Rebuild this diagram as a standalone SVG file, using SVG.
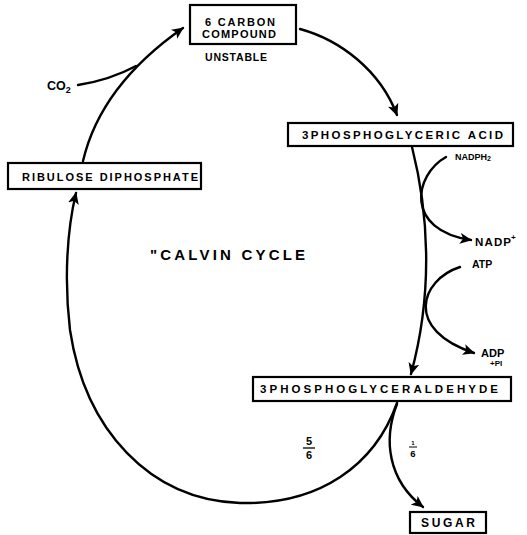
<svg xmlns="http://www.w3.org/2000/svg" width="527" height="535" viewBox="0 0 527 535">
  <style>
    .box { fill: #fff; stroke: #000; stroke-width: 2.2; }
    .lbl { font-family: "Liberation Sans", "DejaVu Sans", sans-serif; font-weight: bold; fill: #000; }
    .wire { fill: none; stroke: #000; stroke-width: 2.4; stroke-linecap: round; }
  </style>
  <defs>
    <marker id="head" markerUnits="userSpaceOnUse" markerWidth="14" markerHeight="12" refX="11" refY="6" orient="auto">
      <path d="M0,0.5 L12,6 L0,11.5 L3,6 Z" fill="#000"/>
    </marker>
  </defs>
  <rect width="527" height="535" fill="#fff"/>

  <!-- connectors -->
  <g id="connectors">
    <path class="wire" d="M300 29 C340 40, 380 70, 397 115" marker-end="url(#head)"/>
    <path class="wire" d="M412 147 C428 210, 434 290, 411 374" marker-end="url(#head)"/>
    <path class="wire" d="M446 157 C414 175, 404 230, 471 240" marker-end="url(#head)"/>
    <path class="wire" d="M460 267 C420 280, 404 330, 474 353" marker-end="url(#head)"/>
    <path class="wire" d="M397 403 C375 465, 320 505, 240 503 C150 500, 85 430, 70 330 C64 280, 67 230, 76 193" marker-end="url(#head)"/>
    <path class="wire" d="M397 404 C383 440, 388 480, 423 507" marker-end="url(#head)"/>
    <path class="wire" d="M83 161 C95 110, 130 65, 183 28" marker-end="url(#head)"/>
    <path class="wire" d="M78 85 Q110 80 136 66"/>
  </g>

  <g id="carbon6">
    <rect class="box" x="190" y="5" width="106" height="39"/>
    <text class="lbl" x="240" y="26" font-size="11" text-anchor="middle" textLength="70" lengthAdjust="spacing">6 CARBON</text>
    <text class="lbl" x="239" y="38" font-size="11" text-anchor="middle" textLength="74" lengthAdjust="spacing">COMPOUND</text>
    <text class="lbl" x="205" y="61" font-size="10.5" textLength="62" lengthAdjust="spacing">UNSTABLE</text>
  </g>

  <g id="pga">
    <rect class="box" x="288" y="123" width="225" height="23"/>
    <text class="lbl" x="302" y="139" font-size="11.5" textLength="201" lengthAdjust="spacing">3PHOSPHOGLYCERIC ACID</text>
  </g>

  <g id="nadph">
    <text class="lbl" x="455" y="160" font-size="9">NADPH<tspan font-size="7" dy="1">2</tspan></text>
  </g>

  <g id="nadp">
    <text class="lbl" x="475" y="246" font-size="11.5" textLength="36" lengthAdjust="spacing">NADP</text>
    <text class="lbl" x="511" y="240" font-size="8">+</text>
  </g>

  <g id="atp">
    <text class="lbl" x="472" y="268" font-size="10.5">ATP</text>
  </g>

  <g id="adp">
    <text class="lbl" x="481" y="357" font-size="11">ADP</text>
    <text class="lbl" x="490" y="366" font-size="8">+PI</text>
  </g>

  <g id="pgal">
    <rect class="box" x="253" y="377" width="258" height="24"/>
    <text class="lbl" x="260" y="393" font-size="11.5" textLength="238" lengthAdjust="spacing">3PHOSPHOGLYCERALDEHYDE</text>
  </g>

  <g id="sugar">
    <rect class="box" x="410" y="512" width="76" height="21"/>
    <text class="lbl" x="448" y="527" font-size="12" text-anchor="middle" textLength="54" lengthAdjust="spacing">SUGAR</text>
  </g>

  <g id="ribulose">
    <rect class="box" x="8" y="163" width="193" height="26"/>
    <text class="lbl" x="22" y="181" font-size="11" textLength="176" lengthAdjust="spacing">RIBULOSE  DIPHOSPHATE</text>
  </g>

  <g id="co2">
    <text class="lbl" x="47" y="90" font-size="12.5">CO<tspan font-size="9" dy="3">2</tspan></text>
  </g>

  <g id="title">
    <text class="lbl" x="150" y="260" font-size="15" textLength="155" lengthAdjust="spacing">"CALVIN CYCLE</text>
  </g>

  <g id="fractions">
    <text class="lbl" x="309" y="445" font-size="11" text-anchor="middle">5</text>
    <line x1="303" y1="448" x2="315" y2="448" stroke="#000" stroke-width="1.3"/>
    <text class="lbl" x="309" y="459" font-size="11" text-anchor="middle">6</text>
    <text class="lbl" x="413" y="445" font-size="6" text-anchor="middle">1</text>
    <line x1="409" y1="447" x2="417" y2="447" stroke="#000" stroke-width="1"/>
    <text class="lbl" x="413" y="457" font-size="9.5" text-anchor="middle">6</text>
  </g>
</svg>
